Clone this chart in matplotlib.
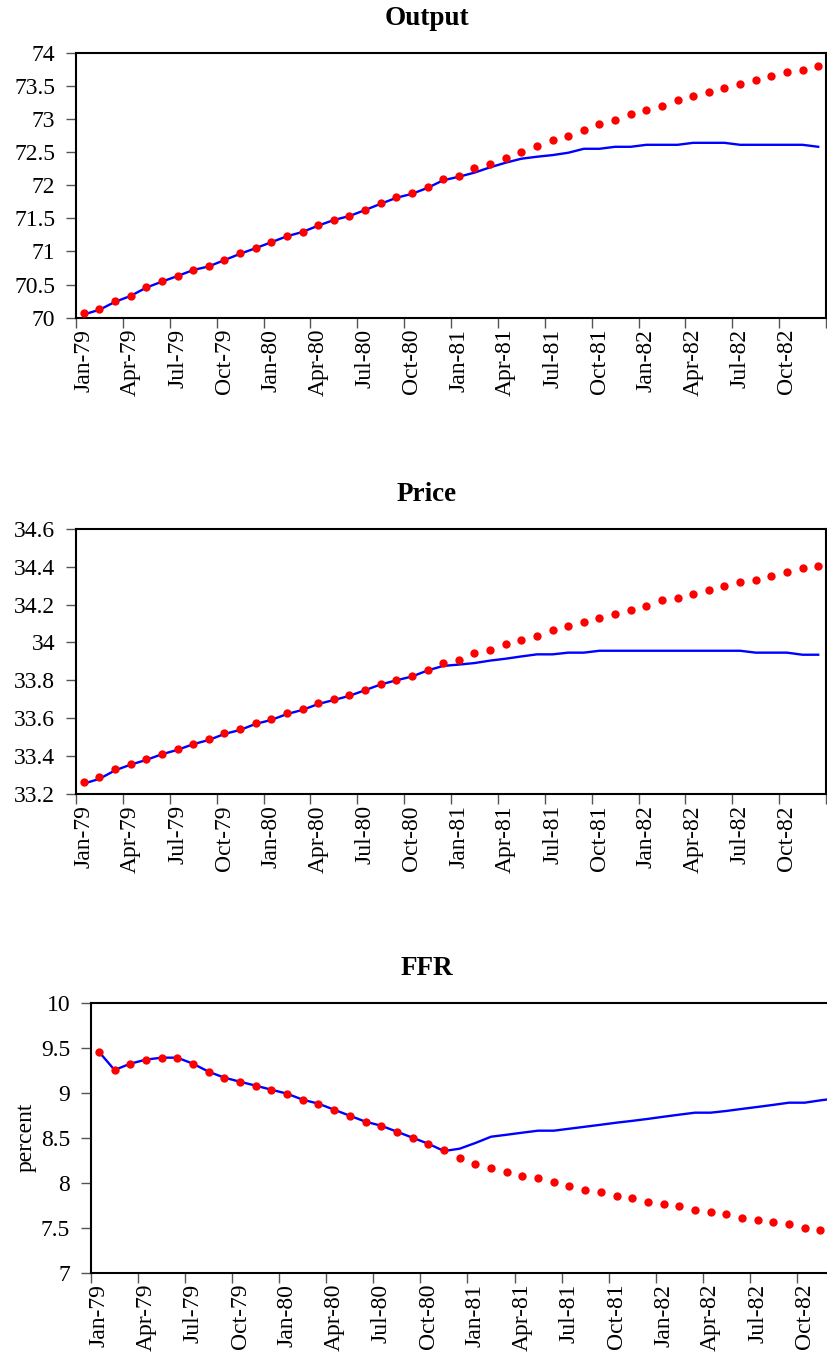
import matplotlib
matplotlib.use("Agg")
import matplotlib.pyplot as plt
import pandas as pd

# months on the category axis
months = pd.date_range("1979-01-01", periods=48, freq="MS")
month_labels = [d.strftime("%b-%y") for d in months]

# Output: red dots (baseline) and blue line (alternative)
output_red = [70.065, 70.126, 70.247, 70.332, 70.458, 70.548, 70.634, 70.725,
              70.780, 70.875, 70.971, 71.057, 71.147, 71.238, 71.298, 71.394,
              71.479, 71.540, 71.630, 71.726, 71.816, 71.877, 71.967, 72.088,
              72.143, 72.264, 72.325, 72.415, 72.506, 72.596, 72.687, 72.747,
              72.838, 72.928, 72.989, 73.079, 73.140, 73.200, 73.291, 73.351,
              73.411, 73.472, 73.532, 73.592, 73.653, 73.713, 73.743, 73.804]
output_blue = [70.050, 70.120, 70.240, 70.330, 70.455, 70.545, 70.630, 70.720,
               70.775, 70.870, 70.965, 71.050, 71.140, 71.230, 71.295, 71.390,
               71.475, 71.535, 71.625, 71.720, 71.810, 71.870, 71.960, 72.075,
               72.128, 72.190, 72.270, 72.340, 72.400, 72.430, 72.455, 72.490,
               72.550, 72.550, 72.580, 72.580, 72.610, 72.610, 72.610, 72.640,
               72.640, 72.640, 72.610, 72.610, 72.610, 72.610, 72.610, 72.580]

# Price
price_red = [33.265, 33.288, 33.330, 33.360, 33.383, 33.413, 33.436, 33.466,
             33.488, 33.520, 33.541, 33.573, 33.594, 33.626, 33.647, 33.678,
             33.699, 33.721, 33.751, 33.782, 33.803, 33.824, 33.856, 33.889,
             33.909, 33.942, 33.962, 33.993, 34.014, 34.035, 34.067, 34.088,
             34.109, 34.130, 34.152, 34.173, 34.194, 34.225, 34.236, 34.257,
             34.278, 34.299, 34.320, 34.331, 34.352, 34.373, 34.394, 34.405]
price_blue = [33.255, 33.280, 33.325, 33.355, 33.380, 33.410, 33.433, 33.463,
              33.485, 33.517, 33.538, 33.570, 33.591, 33.622, 33.644, 33.675,
              33.696, 33.718, 33.748, 33.778, 33.800, 33.820, 33.852, 33.876,
              33.883, 33.891, 33.904, 33.914, 33.926, 33.937, 33.937, 33.946,
              33.946, 33.956, 33.956, 33.956, 33.956, 33.956, 33.956, 33.956,
              33.956, 33.956, 33.956, 33.946, 33.946, 33.946, 33.935, 33.935]

# FFR (percent)
ffr_red = [9.456, 9.252, 9.322, 9.367, 9.389, 9.389, 9.322, 9.233,
           9.167, 9.122, 9.078, 9.033, 8.989, 8.922, 8.878, 8.811,
           8.744, 8.678, 8.633, 8.567, 8.500, 8.433, 8.367, 8.278,
           8.211, 8.167, 8.122, 8.078, 8.056, 8.011, 7.967, 7.922,
           7.900, 7.856, 7.833, 7.789, 7.767, 7.744, 7.700, 7.678,
           7.656, 7.611, 7.589, 7.567, 7.544, 7.500, 7.478, 7.456]
ffr_blue = [9.456, 9.252, 9.322, 9.367, 9.389, 9.389, 9.322, 9.233,
            9.167, 9.122, 9.078, 9.033, 8.989, 8.922, 8.878, 8.811,
            8.744, 8.678, 8.633, 8.567, 8.500, 8.433, 8.352, 8.378,
            8.441, 8.511, 8.533, 8.556, 8.578, 8.578, 8.600, 8.622,
            8.644, 8.667, 8.687, 8.709, 8.733, 8.756, 8.778, 8.778,
            8.797, 8.820, 8.842, 8.865, 8.889, 8.889, 8.915, 8.937]

SERIF = ["Liberation Serif", "DejaVu Serif"]
plt.rcParams["font.family"] = SERIF


def draw_panel(fig, rect, title, red, blue, ylim, ystep, ylabel=None):
    ax = fig.add_axes(rect)
    x = range(len(month_labels))
    ax.plot(x, blue, color="#0000ff", lw=1.7, zorder=2)
    ax.plot(x, red, ls="none", marker="o", ms=6, color="#ff0000",
            markeredgewidth=0, zorder=3)

    ax.set_xlim(-0.5, len(month_labels) - 0.5)
    ax.set_ylim(*ylim)

    # tick marks between categories, labels on every third month
    ax.set_xticks([i - 0.5 for i in range(0, len(month_labels) + 1, 3)])
    ax.set_xticklabels([])
    ax.set_xticks(range(0, len(month_labels), 3), minor=True)
    ax.set_xticklabels(month_labels[::3], minor=True, rotation=90, fontsize=17)
    ax.tick_params(axis="x", which="major", direction="out", length=7,
                   width=1, color="#555555")
    ax.tick_params(axis="x", which="minor", length=0, pad=8)

    n = int(round((ylim[1] - ylim[0]) / ystep))
    yt = [round(ylim[0] + k * ystep, 2) for k in range(n + 1)]
    ax.set_yticks(yt)
    ax.set_yticklabels([f"{v:g}" for v in yt], fontsize=17)
    ax.tick_params(axis="y", direction="out", length=7, width=1,
                   color="#555555", pad=8)

    for s in ax.spines.values():
        s.set_linewidth(1.5)
        s.set_color("black")

    if ylabel:
        ax.set_ylabel(ylabel, fontsize=17, labelpad=3)

    fig.text(427 / 828, rect[1] + rect[3] + 0.0155, title, ha="center",
             va="bottom", fontsize=19.5, fontweight="bold")
    return ax


fig = plt.figure(figsize=(8.28, 13.69), dpi=100)

draw_panel(fig, [0.0918, 0.7679, 0.9058, 0.1936], "Output",
           output_red, output_blue, (70, 74), 0.5)
draw_panel(fig, [0.0918, 0.4200, 0.9058, 0.1938], "Price",
           price_red, price_blue, (33.2, 34.6), 0.2)
draw_panel(fig, [0.1099, 0.0703, 0.9094, 0.1973], "FFR",
           ffr_red, ffr_blue, (7, 10), 0.5, ylabel="percent")

fig.savefig("out.png", dpi=100)
